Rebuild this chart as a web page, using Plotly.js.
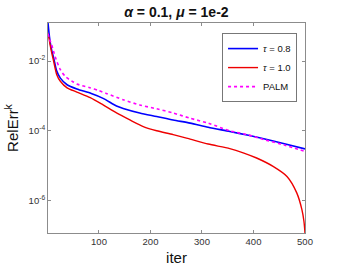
<!DOCTYPE html>
<html>
<head>
<meta charset="utf-8">
<script src="https://cdn.plot.ly/plotly-3.0.1.min.js"></script>
<style>html,body{margin:0;padding:0;background:#fff;}#chart{width:338px;height:273px;}</style>
</head>
<body>
<div id="chart"></div>
<script>
// iterations and relative errors
const iterBlue = [1, 3, 5, 8, 12, 18, 25, 38, 57, 85, 108, 134, 147, 179, 212, 244, 277, 312, 354, 390, 420, 460, 500];
const errBlue = [0.123, 0.0631, 0.0363, 0.0209, 0.0123, 0.00513, 0.00324, 0.00209, 0.00158, 0.00117, 8.51e-4, 5.13e-4, 4.37e-4, 3.24e-4, 2.57e-4, 2.04e-4, 1.66e-4, 1.26e-4, 9.55e-5, 7.41e-5, 5.89e-5, 4.27e-5, 3.02e-5];

const iterRed = [1, 3, 5, 8, 12, 18, 25, 38, 57, 83, 108, 134, 160, 186, 212, 244, 277, 312, 354, 380, 406, 438, 465, 484, 494, 498, 500];
const errRed = [0.0617, 0.0447, 0.0295, 0.0178, 0.00977, 0.00407, 0.00263, 0.00170, 0.00129, 8.91e-4, 5.50e-4, 3.24e-4, 2.04e-4, 1.32e-4, 1.0e-4, 7.76e-5, 5.75e-5, 4.17e-5, 3.09e-5, 2.34e-5, 1.66e-5, 9.55e-6, 4.90e-6, 1.66e-6, 5.50e-7, 2.51e-7, 1.17e-7];

const iterPalm = [1, 4, 8, 15, 25, 35, 50, 57, 82, 100, 114, 147, 179, 212, 244, 277, 312, 354, 390, 420, 460, 500];
const errPalm = [0.0603, 0.0417, 0.0295, 0.0132, 0.00562, 0.00355, 0.00251, 0.00219, 0.00172, 0.00141, 0.00118, 7.76e-4, 5.50e-4, 4.27e-4, 3.24e-4, 2.29e-4, 1.66e-4, 1.0e-4, 7.59e-5, 5.62e-5, 3.89e-5, 2.57e-5];

const seriesNames = ['<i>τ</i> = 0.8', '<i>τ</i> = 1.0', 'PALM'];
const xTickVals = [100, 200, 300, 400, 500];
const yTickVals = [1e-6, 1e-4, 1e-2];
const yTickText = ['10<sup>-6</sup>', '10<sup>-4</sup>', '10<sup>-2</sup>'];

const traces = [
  {x: iterBlue, y: errBlue, name: seriesNames[0], mode: 'lines', line: {color: '#0000ff', width: 1.6, shape: 'spline', smoothing: 0.7}},
  {x: iterRed, y: errRed, name: seriesNames[1], mode: 'lines', line: {color: '#ee0000', width: 1.4, shape: 'spline', smoothing: 0.7}},
  {x: iterPalm, y: errPalm, name: seriesNames[2], mode: 'lines', line: {color: '#ff00ff', width: 1.6, dash: 'dot', shape: 'spline', smoothing: 0.7}}
];

const axisCommon = {
  showgrid: false, zeroline: false, showline: true, linecolor: '#8c8c8c', linewidth: 1,
  mirror: 'ticks', ticks: 'inside', ticklen: 3, tickcolor: '#8c8c8c',
  tickfont: {family: 'Liberation Sans, Arial, sans-serif', size: 9.5, color: '#333'}
};

const layout = {
  width: 338, height: 273,
  margin: {l: 48, r: 33, t: 23, b: 40},
  paper_bgcolor: '#fff', plot_bgcolor: '#fff',
  showlegend: true,
  title: {text: '<b><i>α</i> = 0.1, <i>μ</i> = 1e-2</b>', x: 0.522, xanchor: 'center', y: 0.955, yanchor: 'middle',
    font: {family: 'Liberation Sans, Arial, sans-serif', size: 14, color: '#111'}},
  xaxis: Object.assign({}, axisCommon, {
    range: [1, 500], tickvals: xTickVals,
    title: {text: 'iter', standoff: 6, font: {family: 'Liberation Sans, Arial, sans-serif', size: 15, color: '#111'}}
  }),
  yaxis: Object.assign({}, axisCommon, {
    type: 'log', range: [-6.93, -0.91], tickvals: yTickVals, ticktext: yTickText,
    title: {text: 'RelErr<sup>k</sup>', standoff: 6, font: {family: 'Liberation Sans, Arial, sans-serif', size: 15, color: '#111'}}
  }),
  legend: {
    x: 0.969, xanchor: 'right', y: 0.952, yanchor: 'top',
    bgcolor: '#fff', bordercolor: '#777', borderwidth: 1,
    font: {family: 'Liberation Sans, Arial, sans-serif', size: 9.5, color: '#111'},
    itemwidth: 30, tracegroupgap: 0
  }
};

Plotly.newPlot('chart', traces, layout, {displayModeBar: false, staticPlot: true});
</script>
</body>
</html>
